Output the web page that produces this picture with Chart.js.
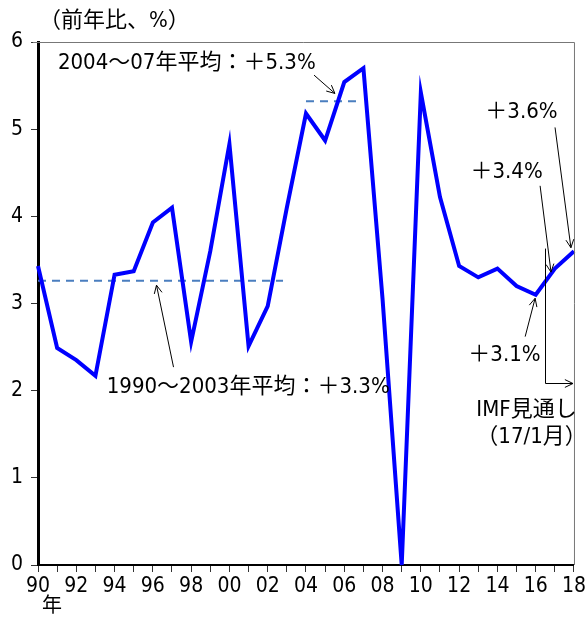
<!DOCTYPE html>
<html>
<head>
<meta charset="utf-8">
<script src="https://cdn.jsdelivr.net/npm/chart.js@4"></script>
<style>
  body { margin: 0; background: #fff; }
  #wrap { width: 588px; height: 617px; }
</style>
</head>
<body>
<div id="wrap"><canvas id="growth" width="588" height="617"></canvas></div>
<script>
// world real GDP growth, % y/y
const years = [1990,1991,1992,1993,1994,1995,1996,1997,1998,1999,2000,2001,2002,2003,2004,
               2005,2006,2007,2008,2009,2010,2011,2012,2013,2014,2015,2016,2017,2018];
const growth = [3.43,2.49,2.35,2.17,3.33,3.37,3.93,4.10,2.56,3.6,4.83,2.51,2.97,4.1,5.18,
                4.87,5.54,5.70,3.05,0.0,5.42,4.22,3.43,3.30,3.40,3.20,3.10,3.40,3.60];

// period averages (dashed)
const avgValues = [3.26, 5.32];
const avgFrom = [1990, 2004];
const avgTo = [2002.8, 2006.8];

// text notes: [text, x(year), y(value)]
const notes = [
  ['2004～07年平均：＋5.3%', 1991.04, 5.76],
  ['1990～2003年平均：＋3.3%', 1993.59, 2.04],
  ['＋3.6%', 2013.37, 5.19],
  ['＋3.4%', 2012.59, 4.50],
  ['＋3.1%', 2012.48, 2.41],
  ['IMF見通し', 2012.9, 1.78],
  ['（17/1月）', 2012.9, 1.47],
  ['（前年比、%）', 1990.05, 6.24]
];
// arrows: [fromX, fromY, toX, toY]
const arrows = [
  [2004.42, 5.62, 2005.51, 5.41],
  [1997.08, 2.27, 1996.19, 3.21],
  [2017.01, 5.02, 2017.84, 3.64],
  [2016.23, 4.35, 2016.80, 3.36],
  [2015.45, 2.62, 2015.97, 3.06]
];
const forecastStart = 2016.49;
const forecastY = [3.63, 2.09];

const FONT = "'Liberation Sans Narrow', 'DejaVu Sans Condensed', 'Noto Sans CJK JP', sans-serif";

function arrowHead(ctx, x1, y1, x2, y2) {
  const a = Math.atan2(y2 - y1, x2 - x1);
  const L = 9, s = 0.45;
  ctx.beginPath();
  ctx.moveTo(x2 - L * Math.cos(a - s), y2 - L * Math.sin(a - s));
  ctx.lineTo(x2, y2);
  ctx.lineTo(x2 - L * Math.cos(a + s), y2 - L * Math.sin(a + s));
  ctx.stroke();
}

const notesPlugin = {
  id: 'notes',
  afterDraw(chart) {
    const ctx = chart.ctx, xs = chart.scales.x, ys = chart.scales.y, ca = chart.chartArea;
    ctx.save();
    // frame top / right
    ctx.strokeStyle = '#777';
    ctx.lineWidth = 1;
    ctx.beginPath();
    ctx.moveTo(ca.left - 5, ca.top + 0.5);
    ctx.lineTo(ca.right + 0.5, ca.top + 0.5);
    ctx.lineTo(ca.right + 0.5, ca.bottom);
    ctx.stroke();

    ctx.fillStyle = '#000';
    ctx.font = '22px ' + FONT;
    ctx.textBaseline = 'middle';
    ctx.textAlign = 'left';
    notes.forEach(n => {
      ctx.fillText(n[0], xs.getPixelForValue(n[1]), ys.getPixelForValue(n[2]));
    });
    ctx.textAlign = 'center';
    ctx.font = '20px ' + FONT;
    ctx.fillText('年', xs.getPixelForValue(1990) + 14, 607);

    ctx.strokeStyle = '#000';
    ctx.lineWidth = 1;
    arrows.forEach(a => {
      const x1 = xs.getPixelForValue(a[0]), y1 = ys.getPixelForValue(a[1]);
      const x2 = xs.getPixelForValue(a[2]), y2 = ys.getPixelForValue(a[3]);
      ctx.beginPath();
      ctx.moveTo(x1, y1);
      ctx.lineTo(x2, y2);
      ctx.stroke();
      arrowHead(ctx, x1, y1, x2, y2);
    });
    // forecast bracket
    const bx = Math.round(xs.getPixelForValue(forecastStart)) + 0.5;
    const by1 = ys.getPixelForValue(forecastY[0]);
    const by2 = Math.round(ys.getPixelForValue(forecastY[1])) + 0.5;
    const ex = xs.getPixelForValue(2018) - 1;
    ctx.beginPath();
    ctx.moveTo(bx, by1);
    ctx.lineTo(bx, by2);
    ctx.lineTo(ex, by2);
    ctx.stroke();
    arrowHead(ctx, bx, by2, ex, by2);
    ctx.restore();
  }
};

const avgSets = avgValues.map((v, i) => ({
  data: [{x: avgFrom[i], y: v}, {x: avgTo[i], y: v}],
  borderColor: '#4a7ebf',
  borderWidth: 2,
  borderDash: [8, 6],
  pointRadius: 0,
  clip: false
}));

new Chart(document.getElementById('growth').getContext('2d'), {
  type: 'line',
  data: {
    datasets: [
      {
        data: years.map((y, i) => ({x: y, y: growth[i]})),
        borderColor: '#0000ff',
        borderWidth: 4,
        pointRadius: 0,
        tension: 0,
        borderJoinStyle: 'miter',
        clip: false
      }
    ].concat(avgSets)
  },
  options: {
    responsive: false,
    animation: false,
    layout: { padding: { top: 42, right: 12, left: 0, bottom: 0 } },
    plugins: { legend: { display: false }, tooltip: { enabled: false } },
    scales: {
      x: {
        type: 'linear',
        min: 1990, max: 2018,
        afterFit(s) { s.height = 52; },
        ticks: {
          stepSize: 1, autoSkip: false, maxRotation: 0, color: '#000',
          font: { family: FONT, size: 21 }, padding: 2,
          callback: v => (v % 2 === 0 ? String(v).slice(2) : '')
        },
        grid: { drawOnChartArea: false, tickLength: 7, color: '#333' },
        border: { color: '#000', width: 2 }
      },
      y: {
        min: 0, max: 6,
        afterFit(s) { s.width = 38; },
        ticks: { stepSize: 1, color: '#000', font: { family: FONT, size: 21 }, padding: 8 },
        grid: { drawOnChartArea: false, tickLength: 7, color: '#333' },
        border: { color: '#000', width: 3 }
      }
    }
  },
  plugins: [notesPlugin]
});
</script>
</body>
</html>
